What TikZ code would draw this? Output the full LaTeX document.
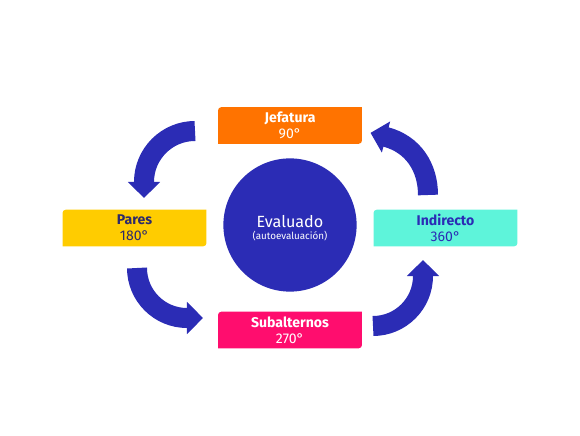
\documentclass[tikz,border=0pt]{standalone}
\usepackage{fontspec}
\setmainfont{Fira Sans}
\usetikzlibrary{arrows.meta,backgrounds}
\definecolor{navy}{HTML}{2B2CB5}
\definecolor{jefc}{HTML}{FF7300}
\definecolor{parc}{HTML}{FFCC00}
\definecolor{indc}{HTML}{5EF4DA}
\definecolor{subc}{HTML}{FF0D6E}
\definecolor{dark}{HTML}{2E2A6B}

\begin{document}
\begin{tikzpicture}[x=0.025cm,y=0.025cm,
  rol/.style={minimum width=3.58cm, minimum height=0.9cm, inner sep=0pt,
              align=center, font=\fontsize{10}{11.3}\selectfont},
  giro/.style={line width=0.5cm, draw=navy,
               -{Triangle[length=4mm,width=7.8mm]}}]

\path[use as bounding box] (0,0) rectangle (580,435);

% ---------------------------------------------------------------- centre
\node[circle, fill=navy, minimum size=3.33cm, inner sep=0pt] (ev) at (290,210) {};
\node[text=white, font=\fontsize{11.5}{13}\selectfont, anchor=base] (eva)
  at (290,207) {Evaluado};
\node[text=white, font=\fontsize{7}{8}\selectfont, anchor=base] (auto)
  at (290,195) {(autoevaluación)};

% ---------------------------------------------------------------- roles
\node[rol, text=white] (jef) at (290,309.5) {\textbf{Jefatura}\\90°};
\node[rol, text=dark]  (par) at (134.5,207) {\textbf{Pares}\\180°};
\node[rol, text=navy]  (ind) at (445.5,207) {\textbf{Indirecto}\\360°};
\node[rol, text=white] (sub) at (290,105)   {\textbf{Subalternos}\\270°};

% fills: rounded top left and bottom right only
\begin{scope}[on background layer]
\foreach \n/\c in {jef/jefc,par/parc,ind/indc,sub/subc}
  \fill[\c] (\n.west) [rounded corners=2.2pt] -- (\n.north west) -- (\n.north)
    [sharp corners] -- (\n.north east) -- (\n.east)
    [rounded corners=2.2pt] -- (\n.south east) -- (\n.south)
    [sharp corners] -- (\n.south west) -- cycle;
\end{scope}

% ---------------------------------------------------------------- cycle arrows
\coordinate (t1) at (195,304);
\coordinate (t2) at (137,167);
\coordinate (t3) at (373,109);
\coordinate (t4) at (428,240);
\coordinate (h4) at (386,298);

\draw[giro] (t1) arc[start angle=90,end angle=180,radius=51] -- ++(0,-16);
\draw[giro] (t2) arc[start angle=180,end angle=270,radius=50] -- ++(16,0);
\draw[giro] (t3) arc[start angle=270,end angle=360,radius=50] -- ++(0,16);
\draw[giro] (t4) to[out=90,in=-15] (h4) -- ++(165:16);
\end{tikzpicture}
\end{document}
